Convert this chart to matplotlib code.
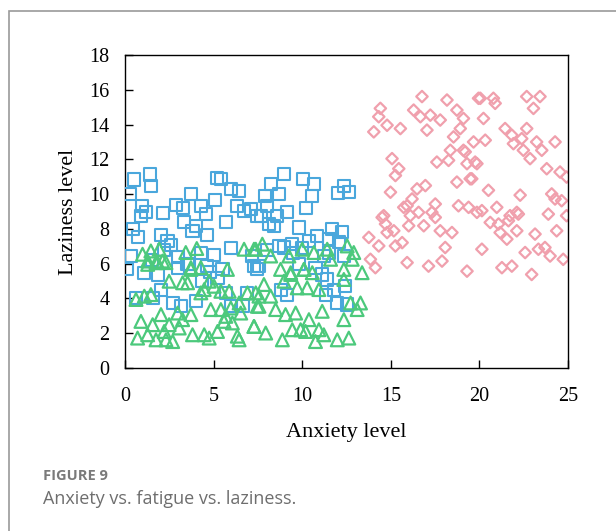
import matplotlib
matplotlib.use("Agg")
import matplotlib.pyplot as plt
import matplotlib.patches as patches

# fatigue group (blue squares)
sq_x = [0.53, 1.41, 1.46, 0.28, 0.96, 1.18, 0.90, 0.43, 0.75, 0.34, 0.11, 2.16, 2.87, 3.25, 3.72,
        4.28, 4.56, 3.34, 4.00, 3.81, 4.65, 5.07, 5.69, 5.41, 5.18, 5.97, 6.44, 6.34, 6.72, 7.09,
        7.47, 2.03, 2.40, 2.59, 8.97, 10.04, 10.66, 8.26, 8.69, 7.88, 12.35, 12.63, 12.01, 10.57,
        8.03, 9.16, 10.19, 7.66, 8.56, 8.13, 8.41, 9.81, 10.85, 11.69, 12.26, 10.38, 11.50, 12.07,
        8.69, 9.44, 8.97, 7.19, 11.22, 11.50, 12.35, 7.56, 1.09, 1.84, 2.97, 3.53, 4.65, 7.28,
        2.03, 0.62, 1.56, 2.69, 3.15, 4.00, 4.37, 5.22, 5.69, 5.97, 6.63, 6.91, 7.47, 8.78, 9.16,
        11.41, 11.32, 11.98, 12.54, 11.79, 12.44, 11.13, 10.75, 4.30, 5.00, 6.00, 4.80, 5.50, 3.00,
        3.60, 2.20, 1.50, 8.00, 9.50, 10.00, 9.80]
sq_y = [10.84, 11.13, 10.49, 10.01, 9.33, 8.95, 8.72, 7.99, 7.54, 6.44, 5.67, 8.89, 9.38, 9.18,
        10.03, 9.34, 8.85, 8.41, 8.18, 7.89, 7.64, 9.66, 8.41, 10.88, 10.94, 10.30, 10.20, 9.34,
        9.05, 9.14, 8.76, 7.64, 7.31, 7.06, 11.17, 10.88, 10.59, 10.59, 10.01, 9.91, 10.49, 10.11,
        10.05, 9.91, 9.34, 8.95, 9.18, 8.76, 8.76, 8.28, 8.18, 8.08, 7.60, 7.99, 7.83, 7.31, 7.41,
        7.25, 7.02, 7.12, 6.93, 6.44, 6.44, 6.64, 6.44, 5.86, 5.48, 5.38, 5.77, 5.96, 5.86, 5.86,
        4.51, 4.03, 4.03, 3.74, 3.55, 3.84, 4.99, 5.19, 4.32, 3.55, 3.55, 4.32, 5.67, 4.51, 4.22,
        5.09, 4.22, 3.74, 3.65, 4.51, 4.70, 5.38, 5.77, 6.60, 6.50, 6.90, 5.50, 5.70, 6.40, 6.00,
        6.80, 6.20, 6.80, 6.60, 6.90, 6.00]

# laziness-low group (green triangles)
tri_x = [1.28, 1.84, 2.31, 3.72, 4.28, 5.78, 2.49, 3.25, 3.53, 4.75, 5.03, 5.41, 5.88, 4.47, 4.28,
         0.62, 1.09, 1.46, 6.91, 7.56, 7.47, 4.84, 5.41, 5.97, 6.53, 2.97, 2.03, 3.72, 0.90, 1.56,
         2.49, 3.25, 3.06, 2.21, 5.59, 5.69, 6.06, 7.28, 0.71, 1.28, 1.75, 2.31, 2.69, 3.81, 4.47,
         4.75, 5.22, 6.34, 6.44, 6.44, 8.78, 9.35, 10.10, 10.57, 12.35, 13.38, 7.84, 8.97, 9.72,
         10.28, 10.94, 12.35, 7.38, 8.22, 7.56, 8.50, 9.06, 9.63, 12.73, 13.29, 13.10, 11.13, 10.38,
         12.35, 7.28, 7.94, 8.88, 9.44, 9.91, 10.19, 10.94, 10.75, 11.22, 11.98, 12.63, 7.75, 7.38,
         8.22, 9.25, 10.00, 10.66, 11.41, 11.60, 12.54, 12.91, 12.82, 9.35, 10.10, 0.99, 1.46, 1.93,
         1.28, 1.75, 2.12, 3.43, 4.05, 3.72, 6.72, 7.28]
tri_y = [6.15, 6.06, 6.06, 5.67, 5.77, 5.67, 4.99, 4.90, 4.90, 4.99, 4.70, 4.41, 4.41, 4.51, 4.32,
         3.94, 4.13, 4.22, 4.32, 4.13, 3.55, 3.36, 3.36, 3.45, 3.16, 3.16, 3.07, 3.07, 2.68, 2.49,
         2.49, 2.78, 2.30, 2.10, 2.68, 2.97, 2.59, 2.39, 1.72, 1.91, 1.62, 1.62, 1.52, 1.91, 1.91,
         1.72, 2.10, 1.83, 1.62, 3.74, 5.67, 5.38, 5.67, 5.48, 5.67, 5.48, 4.80, 4.99, 4.61, 4.61,
         4.51, 5.09, 4.32, 4.13, 3.55, 3.36, 3.07, 3.16, 3.74, 3.74, 3.36, 3.26, 2.78, 2.78, 2.39,
         2.01, 1.62, 2.20, 2.20, 2.10, 2.20, 1.52, 1.91, 1.62, 1.72, 7.12, 6.83, 6.44, 6.44, 6.83,
         6.64, 6.83, 6.25, 7.02, 6.64, 6.25, 5.48, 5.67, 6.54, 6.73, 6.83, 5.96, 6.06, 6.15, 6.64,
         6.87, 5.77, 6.83, 6.83]

# anxiety-high group (pink diamonds)
dia_x = [16.76, 18.17, 19.95, 14.41, 14.32, 14.79, 14.04, 15.54, 16.29, 16.67, 17.23, 17.79, 17.04,
         18.73, 19.10, 18.92, 18.54, 19.67, 15.07, 15.45, 15.26, 17.60, 18.26, 18.36, 19.10, 19.30,
         19.76, 19.48, 18.73, 14.98, 16.95, 16.48, 16.20, 15.92, 17.51, 18.82, 19.39, 14.60, 20.05,
         20.79, 20.89, 22.67, 23.42, 23.05, 20.23, 21.45, 21.83, 22.67, 22.39, 21.92, 23.23, 24.27,
         23.52, 22.48, 22.86, 20.33, 19.20, 19.86, 19.57, 23.80, 24.55, 24.92, 20.51, 22.30, 24.08,
         24.27, 24.64, 20.14, 20.98, 21.73, 22.11, 23.89, 24.92, 15.73, 19.86, 14.51, 14.70, 16.10,
         16.57, 16.01, 17.32, 17.51, 16.86, 14.79, 15.17, 17.79, 18.45, 13.76, 14.32, 15.26, 15.64,
         18.07, 13.85, 14.13, 15.92, 17.13, 17.89, 19.30, 20.61, 21.08, 21.64, 22.20, 21.17, 21.55,
         22.11, 23.14, 24.36, 20.14, 22.58, 23.33, 23.70, 23.99, 24.73, 21.27, 21.83, 22.95]
dia_y = [15.61, 15.41, 15.51, 14.93, 14.45, 13.96, 13.58, 13.77, 14.83, 14.45, 14.54, 14.26, 13.68,
         14.83, 14.35, 13.77, 13.29, 13.00, 12.04, 11.46, 11.07, 11.84, 11.94, 12.52, 12.52, 11.75,
         11.84, 10.88, 10.69, 10.11, 10.49, 10.30, 9.72, 9.33, 9.43, 9.33, 9.24, 8.76, 15.51, 15.51,
         15.22, 15.61, 15.61, 14.93, 14.35, 13.77, 13.39, 13.77, 13.19, 12.90, 13.00, 13.00, 12.52,
         12.52, 12.04, 13.10, 12.43, 11.75, 10.88, 11.46, 11.27, 10.98, 10.22, 9.94, 10.01, 9.72,
         9.62, 9.05, 9.24, 8.76, 8.95, 8.85, 8.76, 9.24, 8.95, 8.66, 8.28, 8.76, 8.95, 8.18, 8.95,
         8.66, 8.18, 7.79, 7.89, 7.89, 7.79, 7.51, 7.02, 7.02, 7.21, 6.93, 6.25, 5.77, 6.06, 5.86,
         6.15, 5.57, 8.37, 8.28, 8.47, 8.85, 7.79, 7.41, 7.89, 7.70, 7.89, 6.83, 6.64, 6.83, 6.93,
         6.44, 6.25, 5.77, 5.86, 5.38]

x_ticks = [0, 5, 10, 15, 20, 25]
y_ticks = [0, 2, 4, 6, 8, 10, 12, 14, 16, 18]

W, H = 616, 531
fig = plt.figure(figsize=(W / 100, H / 100), dpi=100)
fig.patch.set_facecolor("white")

# grey frame of the page (only left and top edges visible)
frame = patches.Rectangle((9 / W, -0.2), 1.2, 1.2 - 11 / H, transform=fig.transFigure,
                          facecolor="none", edgecolor="#9a9a9a", linewidth=1.2, clip_on=False)
fig.patches.append(frame)

ax = fig.add_axes([125 / W, (H - 368) / H, 443 / W, 313 / H])
ax.scatter(sq_x, sq_y, marker="s", s=76, facecolors="none", edgecolors="#4aa7dc", linewidths=1.5, zorder=3)
ax.scatter(tri_x, tri_y, marker="^", s=85, facecolors="none", edgecolors="#4cc97c", linewidths=1.6, zorder=4)
ax.scatter(dia_x, dia_y, marker="D", s=34, facecolors="none", edgecolors="#f0a0ad", linewidths=1.6, zorder=2)

ax.set_xlim(0, 25)
ax.set_ylim(0, 18)
ax.set_xticks(x_ticks)
ax.set_yticks(y_ticks)
serif = "Liberation Serif"
ax.set_xticklabels([str(t) for t in x_ticks], family=serif, fontsize=14.5)
ax.set_yticklabels([str(t) for t in y_ticks], family=serif, fontsize=14.5)
ax.tick_params(direction="in", length=6, width=1)
ax.tick_params(axis="x", pad=14)
ax.tick_params(axis="y", pad=11)
for sp in ax.spines.values():
    sp.set_linewidth(1.0)
ax.set_xlabel("Anxiety level", family=serif, fontsize=16, labelpad=12)
ax.set_ylabel("Laziness level", family=serif, fontsize=16, labelpad=8)

fig.text(43 / W, 1 - 476 / H, "FIGURE 9", family="Open Sans", fontsize=10.5, fontweight="bold",
         color="#7a7a7a", va="center")
fig.text(43 / W, 1 - 499 / H, "Anxiety vs. fatigue vs. laziness.", family="Open Sans", fontsize=13,
         color="#6e6e6e", va="center")

fig.savefig("out.png", dpi=100)
